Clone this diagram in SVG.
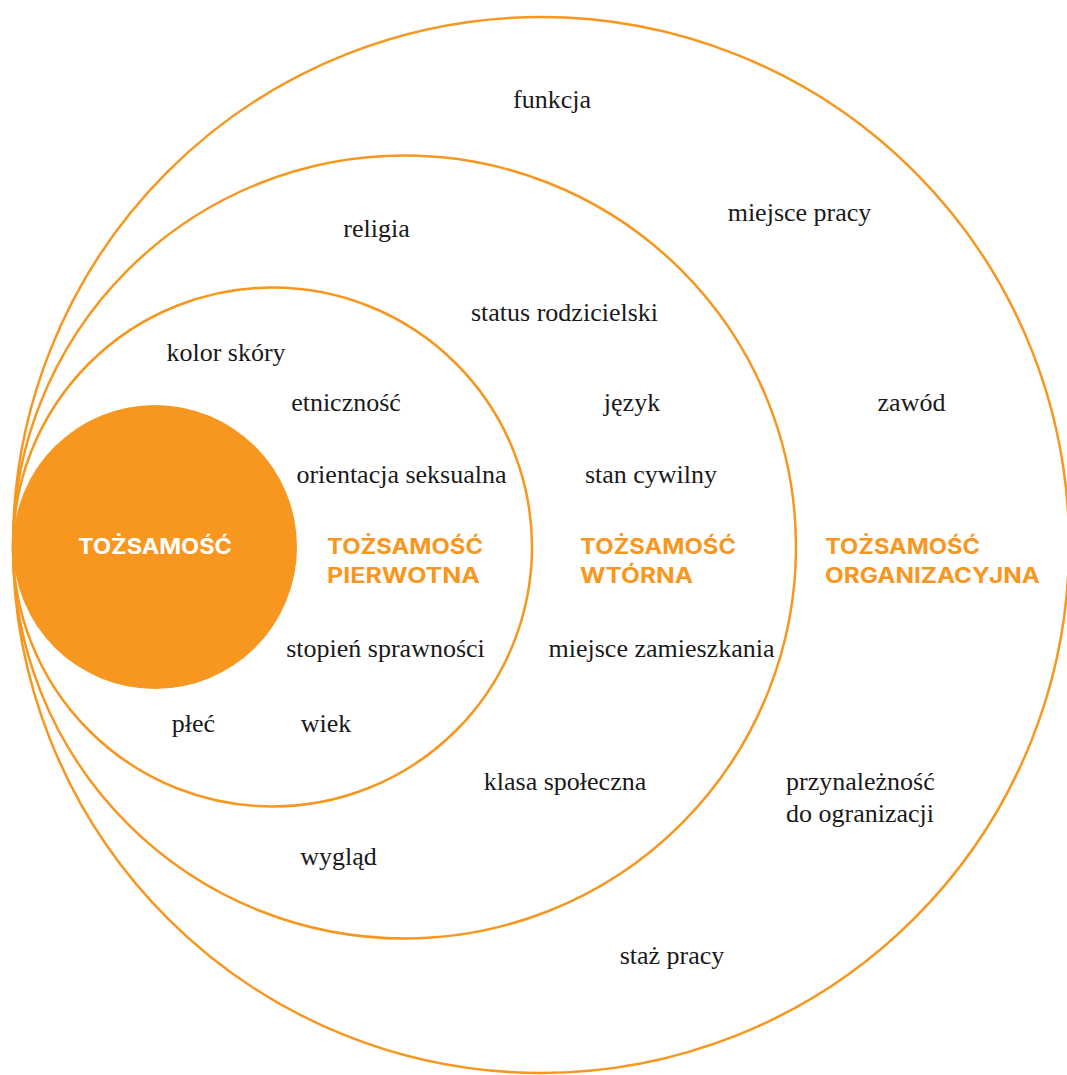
<svg xmlns="http://www.w3.org/2000/svg" width="1067" height="1075" viewBox="0 0 1067 1075">
<style>
.ring{fill:none;stroke:#F7971F;stroke-width:2.5}
.core{fill:#F7971F}
.lbl{font-family:"Liberation Serif","Times New Roman",serif;font-size:26px;fill:#1a1a1a}
.c{text-anchor:middle}
.hd{font-family:Inter,"Open Sans",sans-serif;font-weight:700;font-size:21px;fill:#F7971F}
.hw{font-family:Inter,"Open Sans",sans-serif;font-weight:700;font-size:21px;fill:#ffffff}
</style>
<rect width="1067" height="1075" fill="#ffffff"/>
<g id="ring-organizacyjna">
<circle class="ring" cx="541" cy="545" r="528"/>
<text class="hd" x="825" y="554" textLength="155" lengthAdjust="spacingAndGlyphs">TOŻSAMOŚĆ</text>
<text class="hd" x="825" y="583" textLength="215" lengthAdjust="spacingAndGlyphs">ORGANIZACYJNA</text>
<text class="lbl c" x="552" y="108">funkcja</text>
<text class="lbl c" x="799.5" y="221">miejsce pracy</text>
<text class="lbl c" x="911.5" y="411">zawód</text>
<text class="lbl" x="786" y="790">przynależność</text>
<text class="lbl" x="786" y="822">do ogranizacji</text>
<text class="lbl c" x="672" y="964">staż pracy</text>
</g>
<g id="ring-wtorna">
<circle class="ring" cx="404.5" cy="547" r="391.5"/>
<text class="hd" x="580" y="554" textLength="156" lengthAdjust="spacingAndGlyphs">TOŻSAMOŚĆ</text>
<text class="hd" x="580" y="583" textLength="113" lengthAdjust="spacingAndGlyphs">WTÓRNA</text>
<text class="lbl c" x="376.5" y="237">religia</text>
<text class="lbl c" x="564.5" y="321">status rodzicielski</text>
<text class="lbl c" x="632" y="411">język</text>
<text class="lbl c" x="651" y="483">stan cywilny</text>
<text class="lbl c" x="661.5" y="657">miejsce zamieszkania</text>
<text class="lbl c" x="565" y="790">klasa społeczna</text>
<text class="lbl c" x="338.5" y="865">wygląd</text>
</g>
<g id="ring-pierwotna">
<circle class="ring" cx="272.5" cy="547" r="259.5"/>
<text class="hd" x="327" y="554" textLength="156" lengthAdjust="spacingAndGlyphs">TOŻSAMOŚĆ</text>
<text class="hd" x="327" y="583" textLength="153" lengthAdjust="spacingAndGlyphs">PIERWOTNA</text>
<text class="lbl c" x="226" y="361">kolor skóry</text>
<text class="lbl c" x="346" y="411">etniczność</text>
<text class="lbl c" x="401.5" y="483">orientacja seksualna</text>
<text class="lbl c" x="385.5" y="657">stopień sprawności</text>
<text class="lbl c" x="193.5" y="732">płeć</text>
<text class="lbl c" x="326" y="732">wiek</text>
</g>
<g id="core-tozsamosc">
<circle class="core" cx="155" cy="547" r="142"/>
<text class="hw" x="78" y="554" textLength="154" lengthAdjust="spacingAndGlyphs">TOŻSAMOŚĆ</text>
</g>
<g id="connectors"></g>
</svg>
